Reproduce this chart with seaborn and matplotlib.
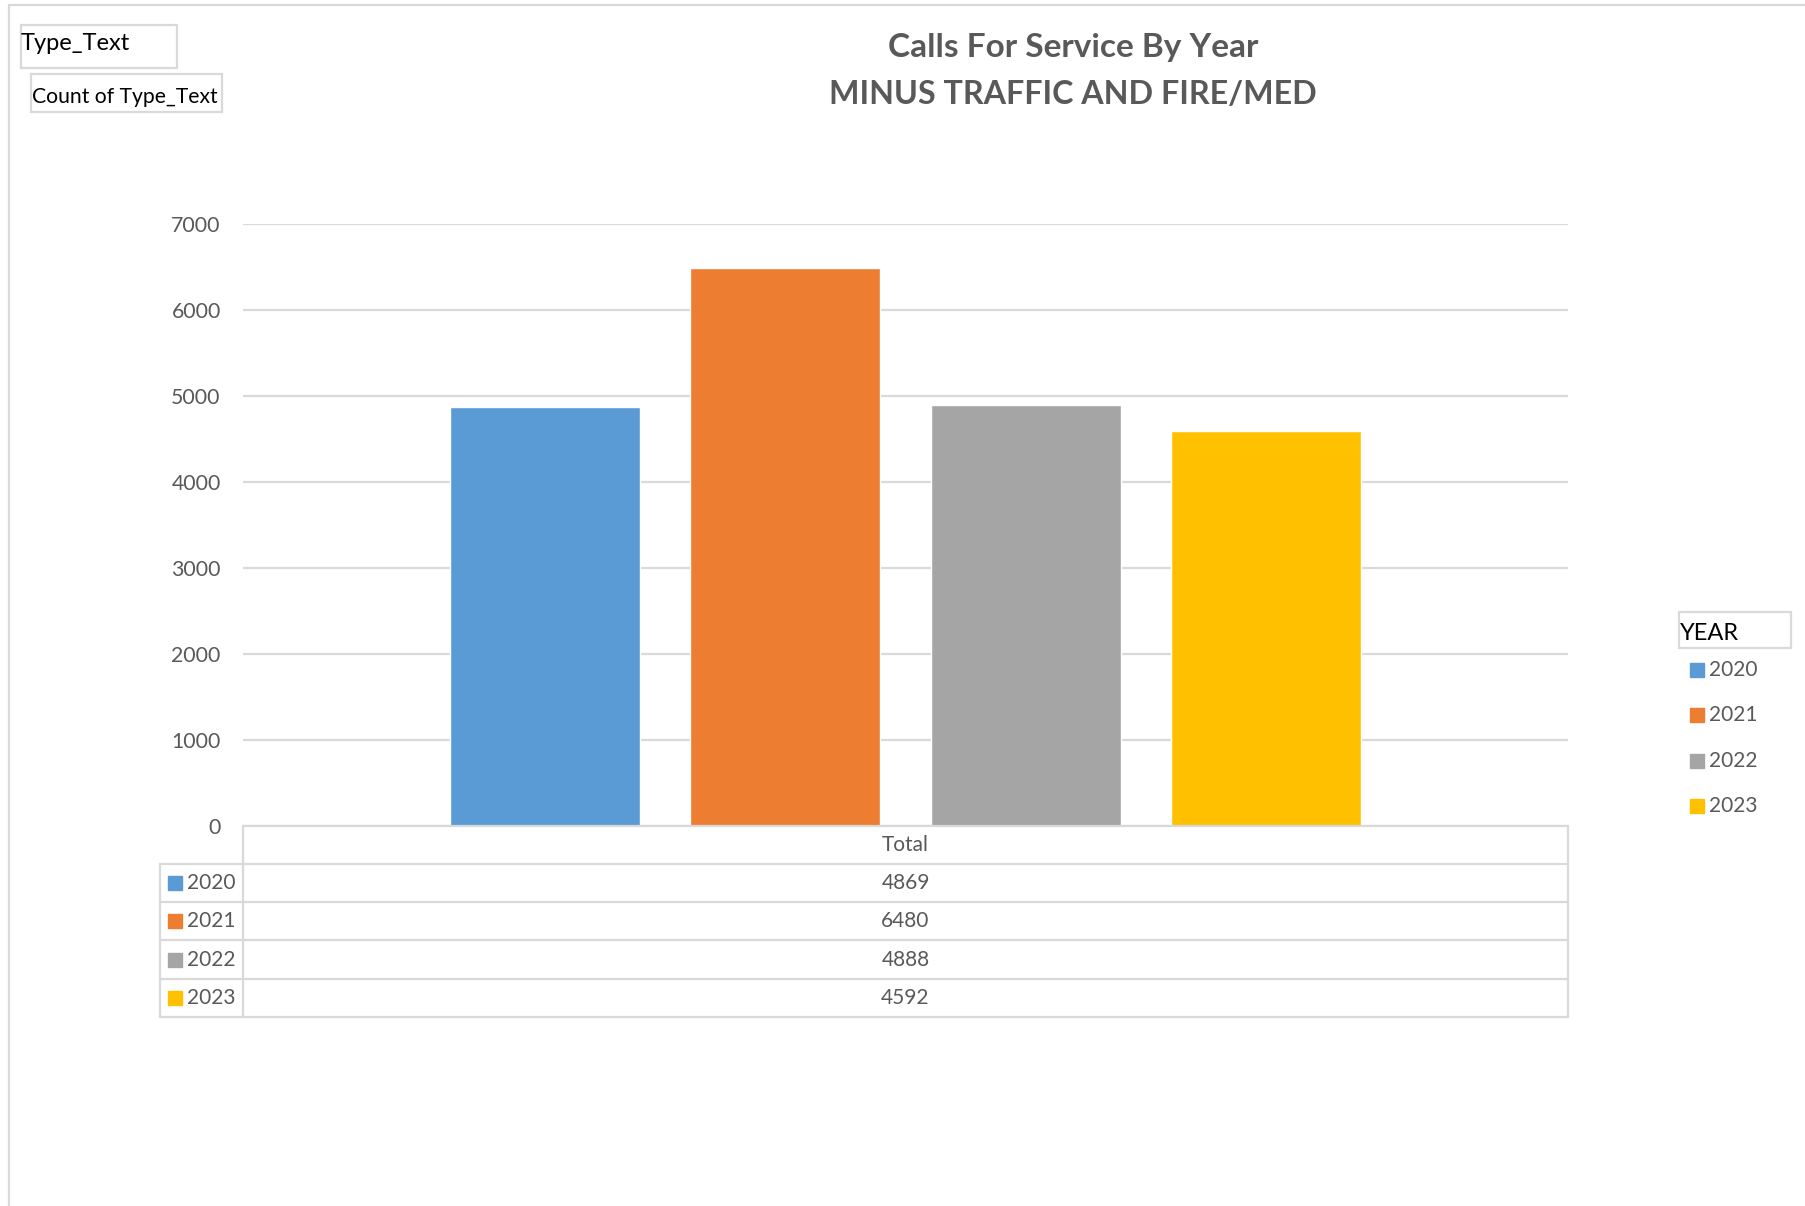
import matplotlib
matplotlib.use('Agg')
import matplotlib.pyplot as plt
import seaborn as sns
import pandas as pd
from matplotlib.patches import Rectangle
from matplotlib.lines import Line2D

# data
years = ['2020', '2021', '2022', '2023']
counts = [4869, 6480, 4888, 4592]
category = 'Total'
colors = ['#5B9BD5', '#ED7D31', '#A5A5A5', '#FFC000']
y_ticks = [0, 1000, 2000, 3000, 4000, 5000, 6000, 7000]
title_lines = ['Calls For Service By Year', 'MINUS TRAFFIC AND FIRE/MED']
legend_title = 'YEAR'
filter_labels = ['Type_Text', 'Count of Type_Text']

W, H = 1806, 1206
GRID = '#D9D9D9'
TXT = '#595959'

sns.set_theme(style='white')
plt.rcParams['font.family'] = ['Lato', 'DejaVu Sans']


def fx(px):
    return px / W


def fy(py):
    return 1 - py / H


def hline(fig, y, x0, x1, color=GRID, lw=1.6):
    fig.add_artist(Line2D([fx(x0), fx(x1)], [fy(y), fy(y)], color=color, lw=lw,
                          transform=fig.transFigure))


def vline(fig, x, y0, y1, color=GRID, lw=1.6):
    fig.add_artist(Line2D([fx(x), fx(x)], [fy(y0), fy(y1)], color=color, lw=lw,
                          transform=fig.transFigure))


def box(fig, x0, y0, x1, y1, color=GRID, lw=1.6):
    fig.add_artist(Rectangle((fx(x0), fy(y1)), fx(x1) - fx(x0), fy(y0) - fy(y1),
                             fill=False, edgecolor=color, lw=lw,
                             transform=fig.transFigure))


df = pd.DataFrame({'category': category, 'year': years, 'count': counts})

fig = plt.figure(figsize=(W / 100, H / 100), dpi=100)
fig.patch.set_facecolor('white')

# plot area
left, right, top, bottom = 243, 1568, 223.5, 826
ax = fig.add_axes([fx(left), fy(bottom), fx(right) - fx(left), (bottom - top) / H])
sns.barplot(data=df, x='category', y='count', hue='year', palette=colors,
            saturation=1, width=0.726, gap=0.208, legend=False, ax=ax)
ax.set_xlim(-0.5, 0.5)
ax.set_ylim(0, 7000)
ax.set_yticks(y_ticks)
ax.set_yticklabels([str(t) for t in y_ticks], color=TXT, fontsize=15.3)
ax.tick_params(axis='y', length=0, pad=16)
ax.set_xticks([])
ax.set_xlabel('')
ax.set_ylabel('')
ax.yaxis.grid(True, color=GRID, lw=1.6)
ax.set_axisbelow(True)
for s in ['top', 'right', 'left', 'bottom']:
    ax.spines[s].set_visible(False)

# title
fig.text(fx(1073), fy(48), title_lines[0], ha='center', va='center',
         fontsize=24, fontweight='bold', color=TXT)
fig.text(fx(1073), fy(94), title_lines[1], ha='center', va='center',
         fontsize=23.2, fontweight='bold', color=TXT)

# data table under the chart
row_edges = [826, 864, 902, 940, 979, 1017]
hline(fig, row_edges[0], left, right)
for y in row_edges[1:]:
    hline(fig, y, 160, right)
vline(fig, 160, row_edges[1], row_edges[-1])
vline(fig, left, row_edges[0], row_edges[-1])
vline(fig, right, row_edges[0], row_edges[-1])

mid_x = (left + right) / 2
fig.text(fx(mid_x), fy((row_edges[0] + row_edges[1]) / 2), category,
         ha='center', va='center', fontsize=15, color=TXT)
for i, (yr, c, col) in enumerate(zip(years, counts, colors)):
    yc = (row_edges[i + 1] + row_edges[i + 2]) / 2
    fig.add_artist(Rectangle((fx(168), fy(yc + 7)), fx(14), 14 / H,
                             color=col, transform=fig.transFigure))
    fig.text(fx(187), fy(yc), yr, ha='left', va='center', fontsize=15, color=TXT)
    fig.text(fx(mid_x), fy(yc), str(c), ha='center', va='center', fontsize=15, color=TXT)

# legend on the right
box(fig, 1679, 612, 1791, 648)
fig.text(fx(1680), fy(633), legend_title, ha='left', va='center', fontsize=17, color='black')
for i, (yr, col) in enumerate(zip(years, colors)):
    yc = 670 + i * 45.3
    fig.add_artist(Rectangle((fx(1690), fy(yc + 7)), fx(14), 14 / H,
                             color=col, transform=fig.transFigure))
    fig.text(fx(1709), fy(yc), yr, ha='left', va='center', fontsize=15, color=TXT)

# pivot field buttons
box(fig, 21, 25, 177, 68)
fig.text(fx(21), fy(44), filter_labels[0], ha='left', va='center', fontsize=17, color='black')
box(fig, 31, 74, 222, 112)
fig.text(fx(32), fy(97), filter_labels[1], ha='left', va='center', fontsize=15.2, color='black')

# outer frame
hline(fig, 5, 9, W)
vline(fig, 9, 5, H)

fig.savefig('out.png', dpi=100, facecolor='white')
